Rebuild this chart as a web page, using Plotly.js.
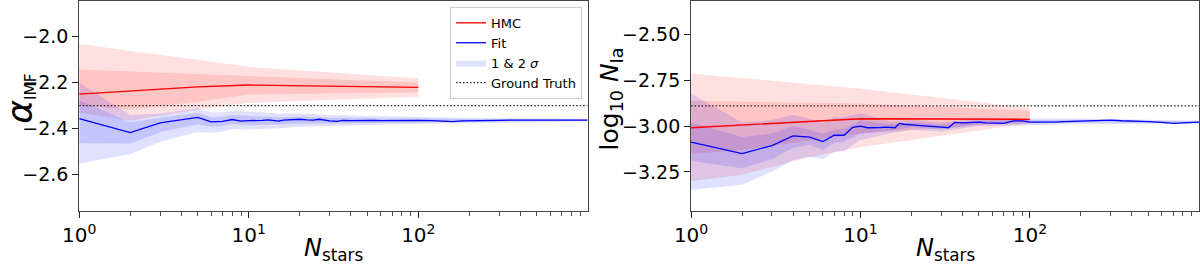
<!DOCTYPE html>
<html><head><meta charset="utf-8">
<script src="https://cdn.plot.ly/plotly-3.0.1.min.js"></script>
<style>html,body{margin:0;padding:0;background:#fff}</style>
</head><body>
<div id="chart" style="width:1200px;height:266px"></div>
<script>
// ---------- data ----------
const N_HMC = [1, 2, 5, 10, 100];
const N_FIT = [1,2,3,4,5,6,7,8,9,10,11,12,13,14,15,16,17,18,20,22,24,26,28,30,33,36,40,45,50,55,60,70,80,90,100,120,140,160,180,200,250,300,350,400,500,600,700,800,900,995];
const N_BAND = [1,2,3,4,5,6,7,8,10,15,20,30,50,100,200,500,995];

// Left panel: alpha_IMF
const ALPHA_TRUTH = -2.3;
const ALPHA_HMC_MEAN = [-2.250, -2.237, -2.218, -2.210, -2.220];
const ALPHA_HMC_S1UP = [-2.142, -2.150, -2.161, -2.171, -2.199];
const ALPHA_HMC_S1LO = [-2.300, -2.316, -2.283, -2.251, -2.242];
const ALPHA_HMC_S2UP = [-2.030, -2.062, -2.100, -2.131, -2.181];
const ALPHA_HMC_S2LO = [-2.330, -2.366, -2.316, -2.288, -2.261];
const ALPHA_FIT_MEAN = [-2.356,-2.417,-2.375,-2.360,-2.351,-2.370,-2.368,-2.360,-2.367,-2.365,-2.366,-2.364,-2.362,-2.366,-2.367,-2.363,-2.362,-2.364,-2.359,-2.362,-2.363,-2.359,-2.363,-2.366,-2.368,-2.364,-2.365,-2.364,-2.365,-2.364,-2.365,-2.364,-2.364,-2.365,-2.364,-2.365,-2.366,-2.369,-2.366,-2.365,-2.364,-2.364,-2.363,-2.363,-2.363,-2.363,-2.363,-2.363,-2.363,-2.363];
const ALPHA_FIT_S2UP = [-2.200,-2.340,-2.334,-2.320,-2.312,-2.330,-2.328,-2.322,-2.325,-2.334,-2.333,-2.340,-2.345,-2.349,-2.353,-2.355,-2.357];
const ALPHA_FIT_S2LO = [-2.552,-2.511,-2.457,-2.433,-2.414,-2.418,-2.412,-2.402,-2.404,-2.398,-2.392,-2.390,-2.385,-2.379,-2.376,-2.371,-2.369];
const ALPHA_FIT_S1UP = [-2.276,-2.372,-2.352,-2.340,-2.332,-2.350,-2.348,-2.341,-2.345,-2.350,-2.347,-2.352,-2.355,-2.357,-2.359,-2.359,-2.360];
const ALPHA_FIT_S1LO = [-2.463,-2.465,-2.415,-2.395,-2.382,-2.392,-2.388,-2.380,-2.385,-2.382,-2.378,-2.378,-2.375,-2.371,-2.370,-2.367,-2.366];

// Right panel: log10 N_Ia
const NIA_TRUTH = -2.89;
const NIA_HMC_MEAN = [-3.009, -2.994, -2.975, -2.960, -2.963];
const NIA_HMC_S1UP = [-2.862, -2.867, -2.872, -2.877, -2.916];
const NIA_HMC_S1LO = [-3.150, -3.130, -3.080, -3.040, -2.976];
const NIA_HMC_S2UP = [-2.713, -2.738, -2.771, -2.797, -2.900];
const NIA_HMC_S2LO = [-3.300, -3.265, -3.170, -3.115, -2.985];
const NIA_FIT_MEAN = [-3.087,-3.150,-3.106,-3.053,-3.060,-3.084,-3.050,-3.050,-3.007,-3.000,-3.009,-3.010,-3.008,-3.006,-3.008,-3.009,-2.985,-2.990,-2.993,-2.997,-3.000,-3.003,-3.006,-3.006,-3.009,-2.980,-2.982,-2.980,-2.978,-2.982,-2.983,-2.985,-2.972,-2.972,-2.978,-2.980,-2.978,-2.976,-2.975,-2.973,-2.969,-2.967,-2.971,-2.972,-2.976,-2.980,-2.985,-2.982,-2.980,-2.978];
const NIA_FIT_S2UP = [-2.823,-2.980,-2.967,-2.940,-2.958,-2.985,-2.952,-2.950,-2.930,-2.975,-2.965,-2.980,-2.960,-2.960,-2.958,-2.965,-2.969];
const NIA_FIT_S2LO = [-3.348,-3.320,-3.248,-3.185,-3.167,-3.180,-3.140,-3.135,-3.076,-3.040,-3.020,-3.030,-3.000,-2.995,-2.988,-2.987,-2.987];
const NIA_FIT_S1UP = [-2.980,-3.060,-3.040,-3.000,-3.020,-3.040,-3.020,-3.015,-2.970,-2.990,-2.980,-2.993,-2.970,-2.970,-2.966,-2.971,-2.974];
const NIA_FIT_S1LO = [-3.190,-3.230,-3.180,-3.120,-3.100,-3.130,-3.090,-3.085,-3.040,-3.025,-3.005,-3.018,-2.990,-2.986,-2.980,-2.981,-2.982];

const X_TICKS = [1, 10, 100];
const X_TICKTEXT = ['10<sup>0</sup>', '10<sup>1</sup>', '10<sup>2</sup>'];
const X_MINOR = [2,3,4,5,6,7,8,9,20,30,40,50,60,70,80,90,200,300,400,500,600,700,800,900];
const X_MAX = 995;
const ALPHA_YTICKS = [-2.0, -2.2, -2.4, -2.6];
const NIA_YTICKS = [-2.5, -2.75, -3.0, -3.25];

// ---------- styles ----------
const RED = '#ff0000', BLUE = '#0000ff';
const RED_FILL = 'rgba(255,0,0,0.12)', BLUE_FILL = 'rgba(0,0,255,0.12)';
const FONT = 'DejaVu Sans';

function band(x, up, lo) {
  return { x: x.concat(x.slice().reverse()), y: up.concat(lo.slice().reverse()) };
}
function bandTrace(x, up, lo, color, xa, ya, legend, name) {
  const b = band(x, up, lo);
  return { x: b.x, y: b.y, xaxis: xa, yaxis: ya, type: 'scatter', mode: 'lines',
    fill: 'toself', fillcolor: color, line: { width: 0, color: color },
    showlegend: !!legend, name: name || '', legendrank: 3, hoverinfo: 'skip' };
}
function panel(xa, ya, d, showLegend) {
  return [
    bandTrace(N_HMC, d.hs2u, d.hs2l, RED_FILL, xa, ya, false),
    bandTrace(N_HMC, d.hs1u, d.hs1l, RED_FILL, xa, ya, false),
    bandTrace(N_BAND, d.fs2u, d.fs2l, BLUE_FILL, xa, ya, showLegend, '1 &amp; 2 <i>σ</i>'),
    bandTrace(N_BAND, d.fs1u, d.fs1l, BLUE_FILL, xa, ya, false),
    { x: [1, X_MAX], y: [d.truth, d.truth], xaxis: xa, yaxis: ya, type: 'scatter', mode: 'lines',
      line: { color: '#222', width: 1.3, dash: '1.5px,2px' }, name: 'Ground Truth', showlegend: showLegend, legendrank: 4, hoverinfo: 'skip' },
    { x: N_HMC, y: d.hm, xaxis: xa, yaxis: ya, type: 'scatter', mode: 'lines',
      line: { color: RED, width: 1.3 }, name: 'HMC', showlegend: showLegend, legendrank: 1, hoverinfo: 'skip' },
    { x: N_FIT, y: d.fm, xaxis: xa, yaxis: ya, type: 'scatter', mode: 'lines',
      line: { color: BLUE, width: 1.3 }, name: 'Fit', showlegend: showLegend, legendrank: 2, hoverinfo: 'skip' }
  ];
}

const traces = [].concat(
  panel('x', 'y', { truth: ALPHA_TRUTH, hm: ALPHA_HMC_MEAN, hs1u: ALPHA_HMC_S1UP, hs1l: ALPHA_HMC_S1LO,
    hs2u: ALPHA_HMC_S2UP, hs2l: ALPHA_HMC_S2LO, fm: ALPHA_FIT_MEAN, fs1u: ALPHA_FIT_S1UP, fs1l: ALPHA_FIT_S1LO,
    fs2u: ALPHA_FIT_S2UP, fs2l: ALPHA_FIT_S2LO }, true),
  panel('x2', 'y2', { truth: NIA_TRUTH, hm: NIA_HMC_MEAN, hs1u: NIA_HMC_S1UP, hs1l: NIA_HMC_S1LO,
    hs2u: NIA_HMC_S2UP, hs2l: NIA_HMC_S2LO, fm: NIA_FIT_MEAN, fs1u: NIA_FIT_S1UP, fs1l: NIA_FIT_S1LO,
    fs2u: NIA_FIT_S2UP, fs2l: NIA_FIT_S2LO }, false)
);

function xaxis(domain, anchor) {
  return { domain: domain, anchor: anchor, type: 'log', range: [0, Math.log10(X_MAX)],
    tickmode: 'array', tickvals: X_TICKS, ticktext: X_TICKTEXT,
    ticks: 'outside', ticklen: 6, tickwidth: 1, tickcolor: '#222',
    minor: { tickvals: X_MINOR, ticks: 'outside', ticklen: 3.5, tickwidth: 0.8, tickcolor: '#222', showgrid: false },
    showline: true, linecolor: '#444', linewidth: 1, mirror: true, showgrid: false, zeroline: false,
    tickfont: { family: FONT, size: 20, color: '#000' }, fixedrange: true };
}
function yaxis(range, ticks, fmt, anchor) {
  return { domain: [0, 1], anchor: anchor, range: range, tickmode: 'array', tickvals: ticks, tickformat: fmt,
    ticks: 'outside', ticklen: 6, tickwidth: 1, tickcolor: '#222',
    showline: true, linecolor: '#444', linewidth: 1, mirror: true, showgrid: false, zeroline: false,
    tickfont: { family: FONT, size: 19, color: '#000' }, fixedrange: true };
}

const layout = {
  width: 1200, height: 266,
  margin: { l: 0, r: 0, t: 1, b: 55 },
  paper_bgcolor: '#fff', plot_bgcolor: '#fff',
  font: { family: FONT, color: '#000' },
  xaxis: xaxis([0.066, 0.4896], 'y'),
  yaxis: yaxis([-2.7582, -1.8444], ALPHA_YTICKS, '.1f', 'x'),
  xaxis2: xaxis([0.5759, 0.9991], 'y2'),
  yaxis2: yaxis([-3.4625, -2.3186], NIA_YTICKS, '.2f', 'x2'),
  showlegend: true,
  legend: { x: 0.485, y: 0.972, xanchor: 'right', yanchor: 'top',
    bgcolor: 'rgba(255,255,255,0.9)', bordercolor: '#cccccc', borderwidth: 1,
    font: { family: FONT, size: 13, color: '#000' }, tracegroupgap: 0, itemwidth: 30 },
  annotations: [
    { xref: 'paper', yref: 'paper', x: 0.016, y: 0.535, xanchor: 'center', yanchor: 'middle', textangle: -90,
      showarrow: false, text: '<span style="font-size:36px"><i>α</i></span><sub>IMF</sub>',
      font: { family: FONT, size: 22, color: '#000' } },
    { xref: 'paper', yref: 'paper', x: 0.509, y: 0.535, xanchor: 'center', yanchor: 'middle', textangle: -90,
      showarrow: false, text: 'log<sub>10</sub> <i>N</i><sub>Ia</sub>',
      font: { family: FONT, size: 25, color: '#000' } },
    { xref: 'paper', yref: 'paper', x: 0.2778, y: -0.2619, xanchor: 'center', yanchor: 'bottom', borderpad: 0,
      showarrow: false, text: '<i>N</i><sub>stars</sub>', font: { family: FONT, size: 24, color: '#000' } },
    { xref: 'paper', yref: 'paper', x: 0.7875, y: -0.2619, xanchor: 'center', yanchor: 'bottom', borderpad: 0,
      showarrow: false, text: '<i>N</i><sub>stars</sub>', font: { family: FONT, size: 24, color: '#000' } }
  ]
};

Plotly.newPlot('chart', traces, layout, { staticPlot: true, displayModeBar: false });
</script>
</body></html>
